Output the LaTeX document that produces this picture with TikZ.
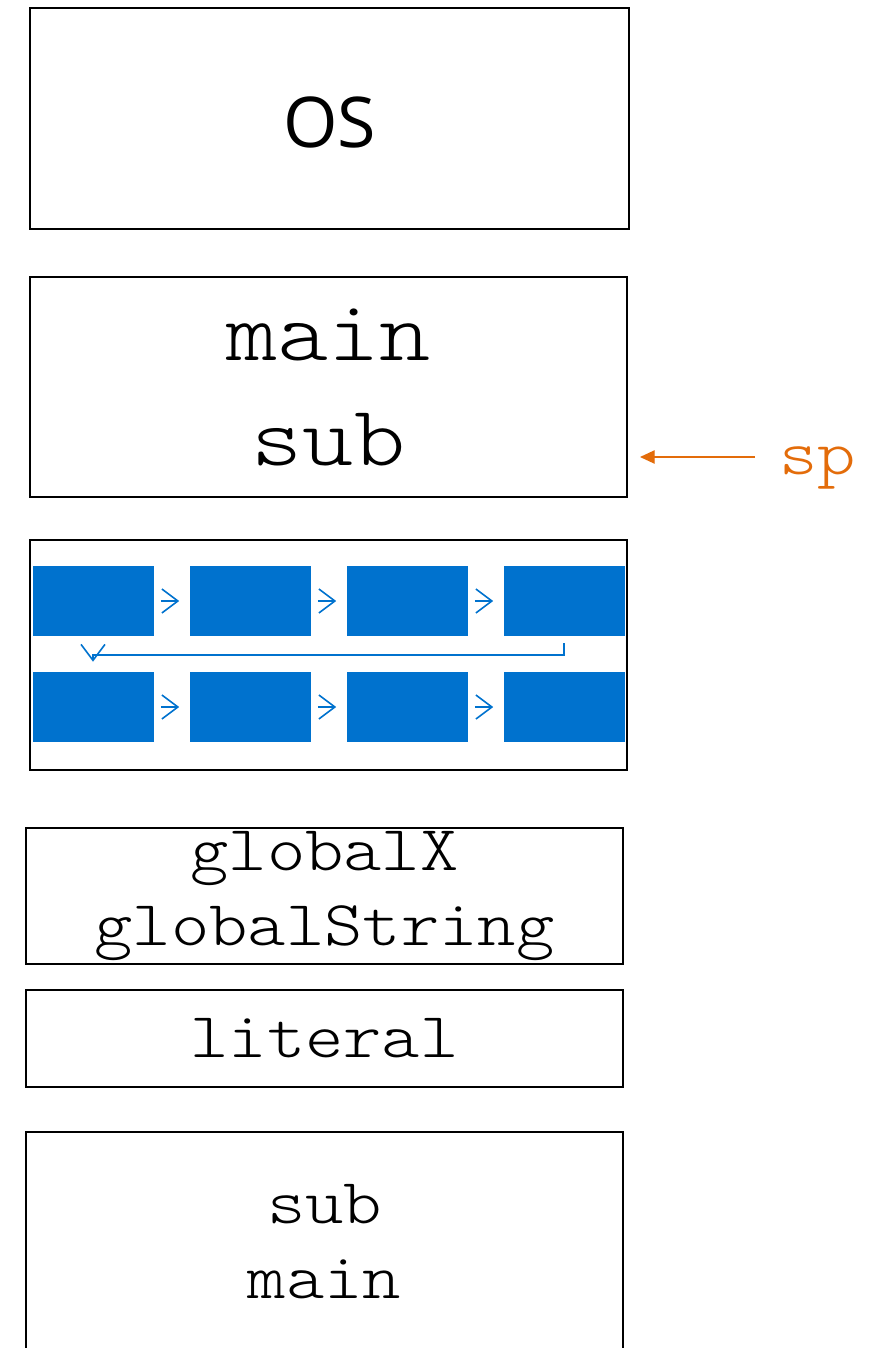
\documentclass[tikz,border=0pt]{standalone}
\usepackage{fontspec}
\setmonofont{lmmonolt10-regular.otf}[FakeStretch=1.14]
\newfontfamily\labelsans{Open Sans}
\usepackage{tikz}
\usetikzlibrary{arrows.meta,positioning}

\definecolor{chainblue}{RGB}{0,114,206}
\definecolor{sporange}{RGB}{227,108,10}

\begin{document}
\begin{tikzpicture}[
  x=0.75pt, y=-0.75pt,
  region/.style={draw, line width=1.2pt, inner sep=0pt, align=center},
  code/.style={font=\ttfamily\fontsize{48}{56.25}\selectfont},
  bigcode/.style={font=\ttfamily\fontsize{64}{78.75}\selectfont},
  block/.style={fill=chainblue, minimum width=90.75pt, minimum height=52.5pt, inner sep=0pt},
  flow/.style={draw=chainblue, line width=1.2pt, -{Straight Barb[length=12pt,width=18pt]},
    shorten <=5.25pt, shorten >=7.5pt},
  pointer/.style={draw=sporange, line width=1pt, -{Triangle[length=11pt,width=10pt]}}
]
\useasboundingbox (0,0) rectangle (872,1348);

% memory regions, top to bottom
\node[region, minimum width=449.25pt, minimum height=165.75pt, text height=44pt,
  font=\labelsans\fontsize{52.5}{60}\selectfont] (os) at (329.5,118.5) {OS};
\node[region, bigcode, minimum width=447.75pt, minimum height=165pt] (stack) at (328.5,387) {main\\sub};
\node[region, minimum width=447.75pt, minimum height=172.5pt] (heap) at (328.5,655) {};
\node[region, code, minimum width=447.75pt, minimum height=102pt] (globals) at (324.5,896) {globalX\\globalString};
\node[region, code, minimum width=447.75pt, minimum height=72.75pt] (literals) at (324.5,1038.5) {literal};
\node[region, code, minimum width=447.75pt, minimum height=165pt] (text) at (324.5,1242) {sub\\main};

% linked blocks inside the heap
\foreach \i/\x in {1/93,2/250,3/407,4/564} {
  \node[block] (top\i) at (\x,601) {};
  \node[block] (bot\i) at (\x,707) {};
}
\foreach \i/\j in {1/2,2/3,3/4} {
  \draw[flow] (top\i) -- (top\j);
  \draw[flow] (bot\i) -- (bot\j);
}
\draw[flow] (top4.south) -- ++(0,19) -| (bot1.north);

% stack pointer
\node[code, text=sporange, anchor=base west, inner sep=0pt] (sp) at (779,474) {sp};
\coordinate (sptail) at (755,457);
\coordinate (sptip) at (640,457);
\draw[pointer] (sptail) -- (sptip);
\end{tikzpicture}
\end{document}
